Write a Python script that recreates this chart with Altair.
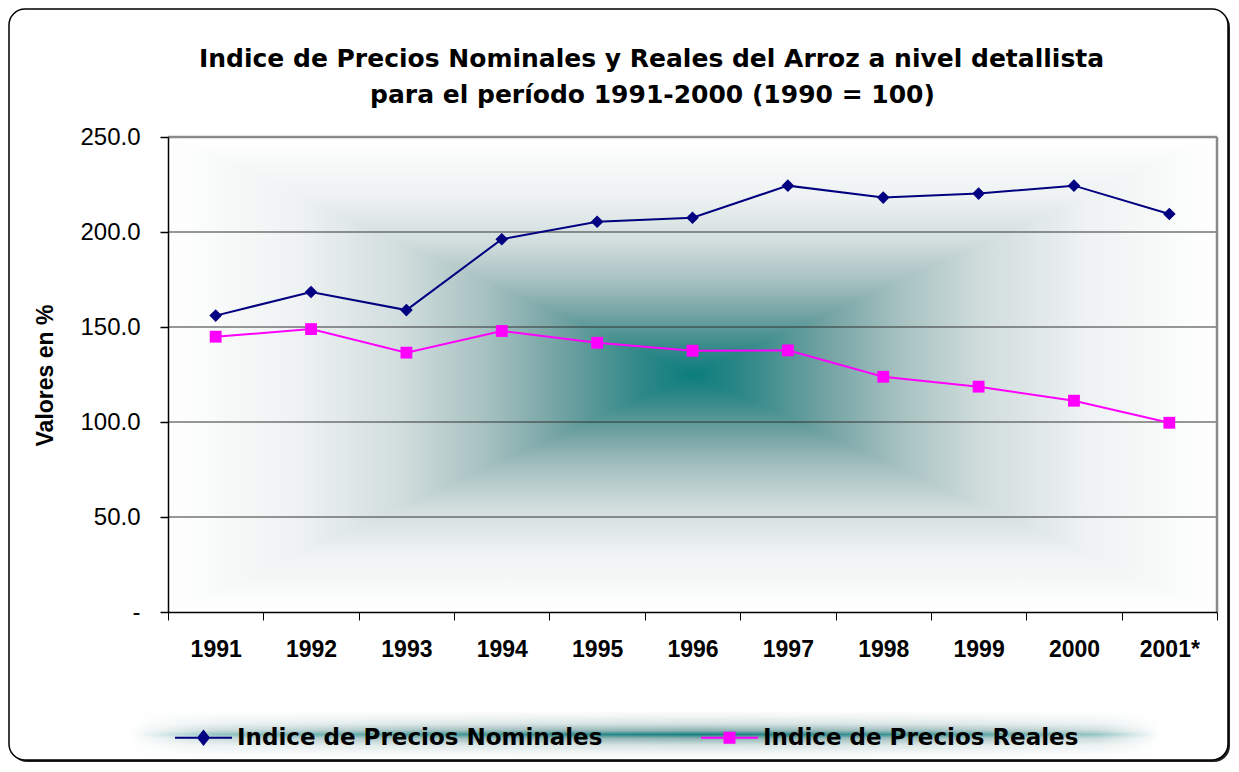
import altair as alt
import pandas as pd

# ---------------- data ----------------
anios = ["1991", "1992", "1993", "1994", "1995", "1996", "1997", "1998", "1999", "2000", "2001*"]
nominales = [156.0, 168.4, 158.9, 196.2, 205.4, 207.5, 224.4, 218.1, 220.2, 224.4, 209.5]
reales = [144.9, 148.9, 136.5, 147.9, 141.7, 137.5, 137.7, 123.8, 118.6, 111.2, 99.6]
series = ["Indice de Precios Nominales", "Indice de Precios Reales"]
colores = ["#000080", "#FF00FF"]
y_ticks = [0, 50, 100, 150, 200, 250]
y_grid = [50, 100, 150, 200]
y_top = [250]
titulo = ["Indice de Precios Nominales y Reales del Arroz a nivel detallista",
          "para el período 1991-2000 (1990 = 100)"]

df = pd.DataFrame({
    "anio": anios * 2,
    "serie": [series[0]] * len(anios) + [series[1]] * len(anios),
    "valor": nominales + reales,
})
grid_df = pd.DataFrame({"g": y_grid})
top_df = pd.DataFrame({"g": y_top})
one = pd.DataFrame({"k": [0]})

W, H = 1049, 475

# ---------------- gradient helpers ----------------
TEAL_STOPS = [(0.0, "#ffffff"), (0.25, "#eef2f2"), (0.45, "#d0dcdc"), (0.6, "#a8c2c2"),
              (0.75, "#72a2a2"), (0.9, "#308888"), (1.0, "#0b7d7d")]


def grad(x1, y1, x2, y2, stops):
    return alt.LinearGradient(
        gradient="linear",
        stops=[alt.GradientStop(color=c, offset=o) for o, c in stops],
        x1=x1, y1=y1, x2=x2, y2=y2,
    )


ux = alt.Scale(domain=[0, 1], nice=False, zero=False)

tri_top = pd.DataFrame({"x": [0, 0.5, 1], "y": [1, 0.5, 1], "y2": [1, 1, 1]})
tri_bot = pd.DataFrame({"x": [0, 0.5, 1], "y": [0, 0.5, 0], "y2": [0, 0, 0]})
tri_left = pd.DataFrame({"y": [0, 0.5, 1], "x": [0, 0.5, 0], "x2": [0, 0, 0]})
tri_right = pd.DataFrame({"y": [0, 0.5, 1], "x": [1, 0.5, 1], "x2": [1, 1, 1]})

g_top = grad(0, 0, 0, 1, TEAL_STOPS)
g_bot = grad(0, 1, 0, 0, TEAL_STOPS)
g_left = grad(0, 0, 1, 0, TEAL_STOPS)
g_right = grad(1, 0, 0, 0, TEAL_STOPS)


def vtri(d, g):
    return alt.Chart(d).mark_area(orient="vertical", color=g, stroke=g, strokeWidth=1).encode(
        x=alt.X("x:Q", scale=ux, axis=None),
        y=alt.Y("y:Q", scale=ux, axis=None),
        y2="y2:Q",
    )


def htri(d, g):
    return alt.Chart(d).mark_area(orient="horizontal", color=g, stroke=g, strokeWidth=1).encode(
        y=alt.Y("y:Q", scale=ux, axis=None),
        x=alt.X("x:Q", scale=ux, axis=None),
        x2="x2:Q",
    )


bg = alt.layer(vtri(tri_top, g_top), vtri(tri_bot, g_bot), htri(tri_left, g_left), htri(tri_right, g_right))

# ---------------- frame, title & legend background ----------------
shadow = alt.Chart(one).mark_rect(cornerRadius=16, fill="#222222").encode(
    x=alt.value(-157), x2=alt.value(1062), y=alt.value(-126), y2=alt.value(625))
frame = alt.Chart(one).mark_rect(cornerRadius=16, fill="white", stroke="black", strokeWidth=1.5).encode(
    x=alt.value(-159), x2=alt.value(1060), y=alt.value(-128), y2=alt.value(623))

title1 = alt.Chart(one).mark_text(font="DejaVu Sans", fontSize=25, fontWeight="bold", color="black",
                                  align="center", baseline="alphabetic").encode(
    x=alt.value(483.5), y=alt.value(-70.5), text=alt.value(titulo[0]))
title2 = alt.Chart(one).mark_text(font="DejaVu Sans", fontSize=25, fontWeight="bold", color="black",
                                  align="center", baseline="alphabetic").encode(
    x=alt.value(484.5), y=alt.value(-34), text=alt.value(titulo[1]))

leg_v = grad(0, 0, 0, 1, [(0, "#ffffff"), (0.12, "#f3f6f6"), (0.28, "#d6e2e2"), (0.42, "#8fb3b3"),
                          (0.5, "#178080"), (0.58, "#8fb3b3"), (0.72, "#d6e2e2"), (0.88, "#f3f6f6"),
                          (1, "#ffffff")])
leg_h = grad(0, 0, 1, 0, [(0, "rgba(255,255,255,1)"), (0.08, "rgba(255,255,255,0.55)"),
                          (0.3, "rgba(255,255,255,0.2)"), (0.55, "rgba(255,255,255,0)"),
                          (0.78, "rgba(255,255,255,0.2)"), (0.94, "rgba(255,255,255,0.55)"),
                          (1, "rgba(255,255,255,1)")])
leg_bg1 = alt.Chart(one).mark_rect(color=leg_v).encode(
    x=alt.value(-38), x2=alt.value(992), y=alt.value(573), y2=alt.value(622))
leg_bg2 = alt.Chart(one).mark_rect(color=leg_h).encode(
    x=alt.value(-38), x2=alt.value(992), y=alt.value(573), y2=alt.value(622))

# ---------------- main chart ----------------
x_enc = alt.X(
    "anio:N", sort=anios, bandPosition=0.5,
    scale=alt.Scale(type="band", paddingInner=0, paddingOuter=0),
    axis=alt.Axis(title=None, labelFont="Liberation Sans", labelFontSize=23, labelFontWeight="bold",
                  labelColor="black", labelAngle=0, labelPadding=18, tickBand="extent", tickSize=8,
                  tickColor="black", tickWidth=1, domainColor="black", domainWidth=1.5, grid=False,
                  zindex=1),
)
y_scale = alt.Scale(domain=[0, 250], nice=False, zero=True)
y_enc = alt.Y(
    "valor:Q", scale=y_scale,
    axis=alt.Axis(values=y_ticks, labelExpr="datum.value == 0 ? '-' : format(datum.value, '.1f')",
                  labelFont="Liberation Sans", labelFontSize=24, labelColor="black", labelPadding=20,
                  tickSize=8, tickColor="black", tickWidth=1.5, domainColor="black", domainWidth=1.5,
                  grid=False, title="Valores en %", titleFont="Liberation Sans", titleFontSize=23,
                  titleFontWeight="bold", titleColor="black", titleAngle=270, titleX=-123, titleY=238,
                  titleAlign="center", titleBaseline="middle", zindex=1),
)
color_scale = alt.Scale(domain=series, range=colores)

rules = alt.Chart(grid_df).mark_rule(color="#333333", strokeWidth=1.2).encode(
    y=alt.Y("g:Q", scale=y_scale))
top_rule = alt.Chart(top_df).mark_rule(color="#8a8a8a", strokeWidth=2.5).encode(
    y=alt.Y("g:Q", scale=y_scale))
right_rule = alt.Chart(one).mark_rule(color="#8a8a8a", strokeWidth=2.5).encode(
    x=alt.value(W), y=alt.value(0), y2=alt.value(H))

line_nom = alt.Chart(df).transform_filter(alt.datum.serie == series[0]).mark_line(
    strokeWidth=2, color=colores[0]).encode(x=x_enc, y=y_enc)
line_real = alt.Chart(df).transform_filter(alt.datum.serie == series[1]).mark_line(
    strokeWidth=2, color=colores[1]).encode(x=x_enc, y=y_enc)

pts_nom = alt.Chart(df).transform_filter(alt.datum.serie == series[0]).mark_point(
    shape="diamond", filled=True, color=colores[0], size=160, opacity=1).encode(x=x_enc, y=y_enc)
pts_real = alt.Chart(df).transform_filter(alt.datum.serie == series[1]).mark_point(
    shape="square", filled=True, color=colores[1], size=140, opacity=1).encode(x=x_enc, y=y_enc)

sym_nom = "M-1,-0.037H1V0.037H-1Z M0,-0.29L0.23,0L0,0.29L-0.23,0Z"
sym_real = "M-1,-0.037H1V0.037H-1Z M-0.21,-0.21H0.21V0.21H-0.21Z"

leg = alt.Legend(
    orient="none", legendX=7, legendY=572, direction="horizontal", title=None,
    labelFont="DejaVu Sans", labelFontSize=23, labelFontWeight="bold", labelColor="black",
    symbolSize=3249, symbolStrokeWidth=0, labelOffset=5, columnPadding=98, padding=0,
    symbolOpacity=1, labelLimit=600)

legend_layer = alt.Chart(df).mark_point(filled=True, opacity=0, size=1).encode(
    x=x_enc, y=y_enc,
    color=alt.Color("serie:N", scale=color_scale, legend=leg),
    shape=alt.Shape("serie:N", scale=alt.Scale(domain=series, range=[sym_nom, sym_real]), legend=leg),
)

main = alt.layer(rules, top_rule, right_rule, line_nom, line_real, pts_nom, pts_real, legend_layer)

chart = alt.layer(shadow, frame, title1, title2, leg_bg1, leg_bg2, bg, main).resolve_scale(
    x="independent", y="independent"
).properties(
    width=W, height=H,
    autosize=alt.AutoSizeParams(type="none"),
    padding={"left": 160, "top": 129, "right": 13, "bottom": 151},
    background="white",
).configure_view(stroke=None)

chart.save("out.html", embed_options={"renderer": "svg", "actions": False})
